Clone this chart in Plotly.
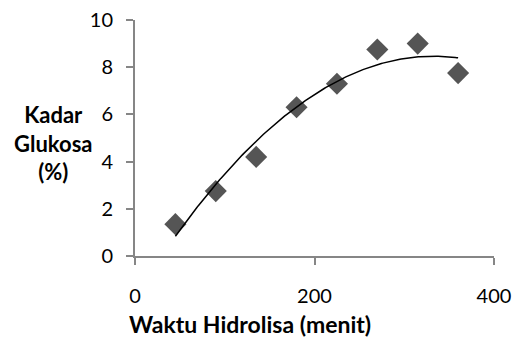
import numpy as np
import plotly.graph_objects as go

waktu = [45, 90, 135, 180, 225, 270, 315, 360]
glukosa = [1.35, 2.75, 4.2, 6.3, 7.3, 8.75, 9.0, 7.75]
x_ticks = [0, 200, 400]
y_ticks = [0, 2, 4, 6, 8, 10]

coef = np.polyfit(waktu, glukosa, 2)
xt = np.linspace(min(waktu), max(waktu), 200)
yt = np.polyval(coef, xt)

FONT = "Lato"
fig = go.Figure()
fig.add_trace(go.Scatter(x=waktu, y=glukosa, mode="markers",
                         marker=dict(symbol="diamond", size=17, color="#555555",
                                     line=dict(width=0)),
                         hoverinfo="x+y", showlegend=False))
fig.add_trace(go.Scatter(x=xt, y=yt, mode="lines",
                         line=dict(color="black", width=1.5),
                         hoverinfo="skip", showlegend=False))

axis_common = dict(showgrid=False, zeroline=False, showline=True, automargin=False,
                   linecolor="#868686", linewidth=2, ticks="outside",
                   ticklen=7, tickwidth=2, tickcolor="#868686",
                   tickfont=dict(family=FONT, size=20, color="black"))
fig.update_xaxes(range=[0, 400], tickvals=x_ticks, ticklabelstandoff=14,
                 **axis_common)
fig.update_yaxes(range=[0, 10], tickvals=y_ticks, ticklabelstandoff=9,
                 **axis_common)

fig.add_annotation(text="<b>Waktu Hidrolisa (menit)</b>", xref="paper", yref="paper",
                   x=(250 - 135) / 359, y=-(324 - 256) / 236, xanchor="center",
                   yanchor="middle", showarrow=False,
                   font=dict(family=FONT, size=23, color="black"))
fig.add_annotation(text="<b>Kadar<br>Glukosa<br>(%)</b>", xref="paper", yref="paper",
                   x=-(135 - 53) / 359, y=(256 - 143) / 236, xanchor="center",
                   yanchor="middle", showarrow=False, align="center",
                   font=dict(family=FONT, size=22, color="black"))

fig.update_layout(width=515, height=341, plot_bgcolor="white", paper_bgcolor="white",
                  margin=dict(l=135, r=21, t=20, b=85))
fig.write_html("out.html", config={"displayModeBar": False},
               post_script="document.body.style.margin='0';")
